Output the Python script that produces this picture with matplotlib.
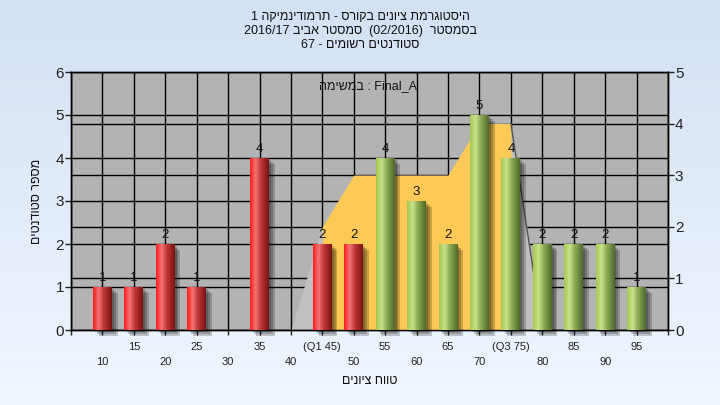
import re
import numpy as np
import matplotlib
matplotlib.use("Agg")
import matplotlib.pyplot as plt
from matplotlib.ticker import FixedLocator

plt.rcParams['font.family'] = ['Liberation Sans', 'DejaVu Sans']

# data
grades = [10, 15, 20, 25, 30, 35, 40, 45, 50, 55, 60, 65, 70, 75, 80, 85, 90, 95]
counts = [1, 1, 2, 1, 0, 4, 0, 2, 2, 4, 3, 2, 5, 4, 2, 2, 2, 1]
# quartile area (right axis)
area_vals = [0, 0, 0, 0, 0, 0, 0, 2, 3, 3, 3, 3, 4, 4, 0, 0, 0, 0]
q1_grade = 45
q3_grade = 75
pass_grade = 55

title_lines = ["היסטוגרמת ציונים בקורס - תרמודינמיקה 1",
               "בסמסטר  (02/2016)  סמסטר אביב 2016/17",
               "סטודנטים רשומים - 67"]
task_text = "במשימה : Final_A"
xlabel = "טווח ציונים"
ylabel = "מספר סטודנטים"

HEB = '\u0590-\u05ff'


def units(s):
    # hebrew runs (with inner spaces / dashes), ltr words, single neutrals
    return re.findall(r'[%s](?:[%s \-]*[%s])?|[^%s\s\-:]+|.' % (HEB, HEB, HEB, HEB), s)


def is_heb(t):
    return re.match('[%s]' % HEB, t) is not None


def vis_ltr(s):
    return ''.join(t[::-1] if is_heb(t) else t for t in units(s))


def vis_rtl(s):
    return ''.join(t[::-1] if is_heb(t) else t for t in reversed(units(s)))


x = np.arange(len(grades))
labels = []
for g in grades:
    if g == q1_grade:
        labels.append("(Q1 %d)" % g)
    elif g == q3_grade:
        labels.append("(Q3 %d)" % g)
    else:
        labels.append(str(g))

fig = plt.figure(figsize=(7.2, 4.05), dpi=100)

# background gradient
bg = fig.add_axes([0, 0, 1, 1], zorder=-10)
grad = np.linspace(0, 1, 256).reshape(-1, 1)
cmap_bg = matplotlib.colors.LinearSegmentedColormap.from_list("bg", ["#d3e1f4", "#f0f6fd"])
bg.imshow(grad, aspect='auto', cmap=cmap_bg, extent=[0, 1, 0, 1])
bg.axis('off')

ax = fig.add_axes([71 / 720, 75 / 405, 597 / 720, 258 / 405])
ax.set_facecolor('#b3b3b3')
ax2 = ax.twinx()
ax2.patch.set_visible(False)

# area series on the back axis (right scale)
xi = np.array(x)
av = np.array(area_vals)
ax.fill_between(xi, av, color='#c0c0c0', lw=0, zorder=2)
qmask = (np.array(grades) >= q1_grade) & (np.array(grades) <= q3_grade)
ax.fill_between(xi, av, where=qmask, color='#fec954', lw=0, zorder=3)
i3 = grades.index(q3_grade)
ax.plot(xi[i3:i3 + 2], av[i3:i3 + 2], color='#555555', lw=1, zorder=3)

# grids
ax.set_ylim(0, 5)
ax.set_yticks(range(0, 6))
ax.yaxis.set_minor_locator(FixedLocator(np.arange(0, 7) * 5 / 6))
ax.yaxis.grid(True, which='both', color='black', lw=1)
ax.set_axisbelow(True)

odd = [i for i in x if i % 2 == 1]
even = [i for i in x if i % 2 == 0]
ax.set_xticks(odd)
ax.set_xticklabels([labels[i] for i in odd])
ax.set_xticks(even + [-1, len(grades)], minor=True)
ax.set_xticklabels([labels[i] for i in even] + ['', ''], minor=True)
ax.xaxis.grid(True, which='both', color='black', lw=1)
ax.set_xlim(-1, len(grades))

ax.yaxis.tick_right()
ax.tick_params(axis='y', which='major', direction='out', length=4, width=1,
               labelsize=11, colors='#222222', pad=1)
ax.tick_params(axis='y', which='minor', length=0)
ax.tick_params(axis='x', which='both', direction='out', length=3.6, width=1,
               labelsize=8, colors='#222222')
ax.tick_params(axis='x', which='major', pad=5)
ax.tick_params(axis='x', which='minor', pad=16)

# bars on front axis (left scale)
w = 0.6
for dx, dy in [(0.06, 0.05), (0.12, 0.09), (0.18, 0.13)]:
    ax2.bar(x + dx, counts, w, bottom=-dy, color='black', alpha=0.2,
            lw=0, zorder=2, clip_on=False)

red_cm = matplotlib.colors.LinearSegmentedColormap.from_list(
    "r", [(0, "#ff1c1c"), (0.3, "#f27474"), (0.55, "#c43a3a"), (1, "#7a1212")])
green_cm = matplotlib.colors.LinearSegmentedColormap.from_list(
    "g", [(0, "#a4c84e"), (0.3, "#c9e28c"), (0.55, "#8fae55"), (1, "#4f6a2a")])
hgrad = np.linspace(0, 1, 64).reshape(1, -1)
bars = ax2.bar(x, counts, w, color='none', lw=0, zorder=3)
for g, b, c in zip(grades, bars, counts):
    if c == 0:
        continue
    cm = green_cm if g >= pass_grade else red_cm
    im = ax2.imshow(hgrad, aspect='auto', cmap=cm, zorder=3,
                    extent=[b.get_x(), b.get_x() + b.get_width(), 0, c])
    im.set_clip_path(b)
    ax2.text(b.get_x() + b.get_width() / 2, c + 0.08, str(c), ha='center',
             va='bottom', fontsize=9.5, color='#111111', zorder=5)

ax2.set_ylim(0, 6)
ax2.set_yticks(range(0, 7))
ax2.set_xlim(-1, len(grades))
ax2.yaxis.tick_left()
ax2.tick_params(axis='y', direction='out', length=4, width=1, labelsize=11,
                colors='#222222', pad=1)
ax2.set_ylabel(vis_rtl(ylabel), fontsize=9, labelpad=9, color='#111111')
ax2.yaxis.set_label_position('left')

for a in (ax, ax2):
    for s in a.spines.values():
        s.set_color('black')
        s.set_linewidth(1)

ax.text(0.4975, 0.946, vis_ltr(task_text), transform=ax.transAxes, ha='center',
        va='center', fontsize=9, color='#111111', zorder=6)

for k, line in enumerate(title_lines):
    fig.text(0.5, 1 - (17.5 + 13.5 * k) / 405, vis_rtl(line), ha='center',
             va='center', fontsize=9, color='#111111')
fig.text(369.5 / 720, 1 - 381 / 405, vis_rtl(xlabel), ha='center', va='center',
         fontsize=9, color='#111111')

fig.savefig('out.png', dpi=100)
